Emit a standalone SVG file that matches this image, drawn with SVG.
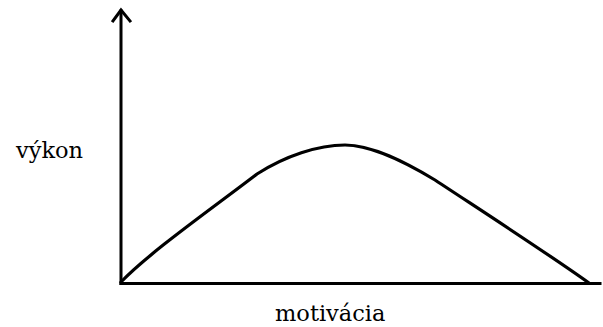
<svg xmlns="http://www.w3.org/2000/svg" width="603" height="327" viewBox="0 0 603 327">
<style>
.ax{fill:none;stroke:#000;stroke-width:3;stroke-linecap:square}
.cv{fill:none;stroke:#000;stroke-width:3.2;stroke-linejoin:round;stroke-linecap:round}
.lb{font-family:"DejaVu Serif",serif;font-size:22.5px;fill:#000}
</style>
<rect width="603" height="327" fill="#fff"/>
<g id="axes">
<path class="ax" d="M121,283.5 V11"/>
<path class="ax" d="M121,283.5 H600"/>
<path class="ax" d="M113,21 L121,10 L130,21" stroke-linejoin="miter" stroke-linecap="butt"/>
</g>
<g id="curve">
<path class="cv" d="M121,282 C150,252 210,210 257,174 C285,156 318,145 345,145 C372,145 405,162 435,180 C485,213 550,255 589,283"/>
</g>
<g id="labels">
<text class="lb" x="16" y="158">výkon</text>
<text class="lb" x="275" y="321">motivácia</text>
</g>
</svg>
